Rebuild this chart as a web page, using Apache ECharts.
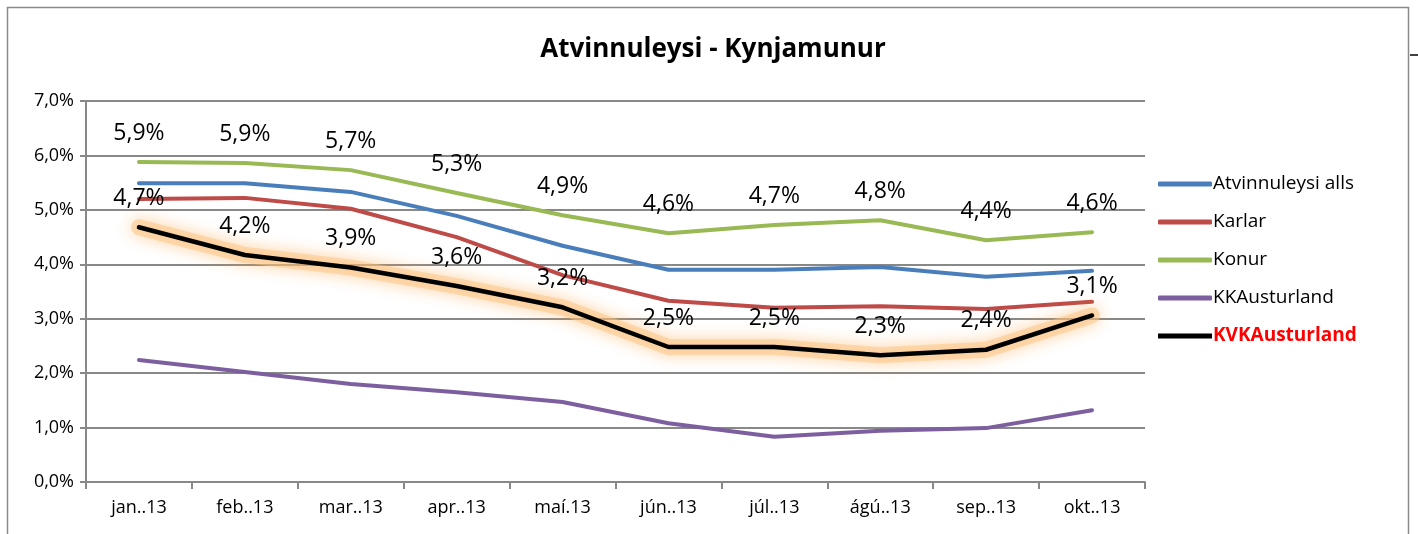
<!DOCTYPE html>
<html>
<head>
<meta charset="utf-8">
<script src="https://cdn.jsdelivr.net/npm/echarts@6/dist/echarts.min.js"></script>
<style>
  html, body { margin: 0; padding: 0; background: #fff; }
  #chart { width: 1418px; height: 534px; }
</style>
</head>
<body>
<div id="chart"></div>
<script>
// mánuðir
const months = ['jan..13', 'feb..13', 'mar..13', 'apr..13', 'maí.13', 'jún..13', 'júl..13', 'ágú..13', 'sep..13', 'okt..13'];

// atvinnuleysi í %
const alls = [5.49, 5.49, 5.33, 4.89, 4.34, 3.90, 3.90, 3.95, 3.77, 3.88];
const karlar = [5.20, 5.22, 5.02, 4.50, 3.80, 3.33, 3.20, 3.23, 3.18, 3.31];
const konur = [5.88, 5.86, 5.73, 5.31, 4.90, 4.57, 4.72, 4.81, 4.44, 4.59];
const kkAusturland = [2.24, 2.02, 1.80, 1.65, 1.47, 1.08, 0.83, 0.94, 0.99, 1.32];
const kvkAusturland = [4.68, 4.17, 3.94, 3.60, 3.21, 2.48, 2.48, 2.33, 2.43, 3.06];

const yTicks = [0, 1, 2, 3, 4, 5, 6, 7];

const pct = v => v.toFixed(1).replace('.', ',') + '%';
const font = '"Open Sans", "Noto Sans", sans-serif';

const colors = {
  alls: '#4a7ebb',
  karlar: '#be4b48',
  konur: '#98b954',
  kk: '#7d5fa0',
  kvk: '#000000'
};

const chart = echarts.init(document.getElementById('chart'));

const valueLabel = {
  show: true,
  position: 'top',
  distance: 17,
  fontSize: 23,
  fontFamily: font,
  color: '#000',
  formatter: p => pct(p.value)
};

const line = (name, data, color, extra) => Object.assign({
  name: name,
  type: 'line',
  data: data,
  symbol: 'circle',
  symbolSize: 1,
  itemStyle: { color: 'rgba(0,0,0,0)' },
  lineStyle: { color: color, width: 4, cap: 'round', join: 'round' },
  emphasis: { disabled: true },
  animation: false
}, extra || {});

chart.setOption({
  backgroundColor: '#fff',
  title: {
    text: 'Atvinnuleysi - Kynjamunur',
    left: 708,
    textAlign: 'center',
    top: 32,
    textStyle: { fontFamily: font, fontSize: 26, fontWeight: 'bold', color: '#000' }
  },
  legend: {
    orient: 'vertical',
    left: 1153,
    top: 166,
    itemGap: 12,
    itemWidth: 54,
    itemHeight: 5,
    icon: 'roundRect',
    textStyle: { fontFamily: font, fontSize: 19, lineHeight: 26, color: '#000', padding: [0, 0, 0, -4] },
    data: [
      { name: 'Atvinnuleysi alls', itemStyle: { color: colors.alls } },
      { name: 'Karlar', itemStyle: { color: colors.karlar } },
      { name: 'Konur', itemStyle: { color: colors.konur } },
      { name: 'KKAusturland', itemStyle: { color: colors.kk } },
      { name: 'KVKAusturland', icon: 'rect', itemStyle: { color: colors.kvk }, textStyle: { color: '#ff0000', fontWeight: 'bold' } }
    ]
  },
  grid: { left: 86, right: 273, top: 101, bottom: 52 },
  xAxis: {
    type: 'category',
    data: months,
    boundaryGap: true,
    axisLine: { lineStyle: { color: '#888', width: 2 } },
    axisTick: { show: true, length: 7, lineStyle: { color: '#888', width: 2 } },
    axisLabel: { fontFamily: font, fontSize: 18, color: '#000', margin: 17 }
  },
  yAxis: {
    type: 'value',
    min: yTicks[0],
    max: yTicks[yTicks.length - 1],
    interval: 1,
    axisLine: { show: true, lineStyle: { color: '#888', width: 2 } },
    axisTick: { show: true, length: 6, lineStyle: { color: '#888', width: 2 } },
    axisLabel: { fontFamily: font, fontSize: 18, color: '#000', margin: 12, formatter: v => pct(v) },
    splitLine: { lineStyle: { color: '#888', width: 2 } }
  },
  graphic: [
    { type: 'rect', shape: { x: 7.5, y: 7.5, width: 1401, height: 540 }, style: { fill: 'none', stroke: '#8a8a8a', lineWidth: 1.5 }, silent: true },
    { type: 'line', shape: { x1: 1410, y1: 55, x2: 1418, y2: 55 }, style: { stroke: '#000', lineWidth: 1.5 }, silent: true }
  ],
  series: [
    line('Atvinnuleysi alls', alls, colors.alls),
    line('Karlar', karlar, colors.karlar),
    line('Konur', konur, colors.konur, { label: valueLabel }),
    line('KKAusturland', kkAusturland, colors.kk),
    // appelsínugulur ljómi undir KVK línunni
    line('KVK glow', kvkAusturland, 'rgba(252, 195, 130, 0.5)', {
      lineStyle: {
        color: 'rgba(252, 195, 130, 0.5)', width: 16, cap: 'round', join: 'round',
        shadowColor: 'rgba(250, 160, 60, 0.95)', shadowBlur: 16
      },
      silent: true
    }),
    line('KVKAusturland', kvkAusturland, colors.kvk, {
      label: valueLabel,
      lineStyle: { color: colors.kvk, width: 4.5, cap: 'round', join: 'round' }
    })
  ]
});
</script>
</body>
</html>
